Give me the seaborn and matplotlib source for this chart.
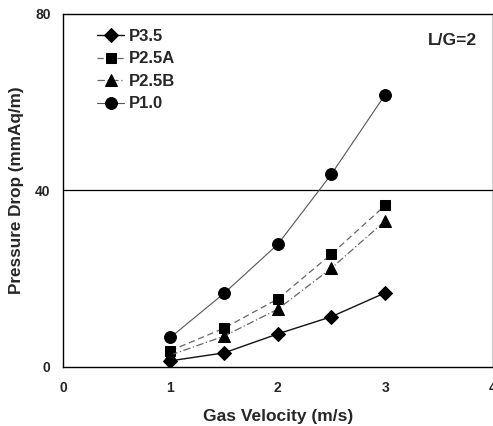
import matplotlib
matplotlib.use("Agg")
import matplotlib.pyplot as plt
import seaborn as sns
import pandas as pd

velocity = [1.0, 1.5, 2.0, 2.5, 3.0]
series_names = ["P3.5", "P2.5A", "P2.5B", "P1.0"]
p35 = [1.4, 3.2, 7.5, 11.4, 16.8]
p25a = [3.7, 8.8, 15.4, 25.6, 36.6]
p25b = [2.7, 7.0, 13.1, 22.4, 33.1]
p10 = [6.7, 16.7, 27.8, 43.7, 61.7]
x_ticks = [0, 1, 2, 3, 4]
y_ticks = [0, 40, 80]

df = pd.DataFrame({
    "v": velocity * 4,
    "dp": p35 + p25a + p25b + p10,
    "series": sum([[n] * len(velocity) for n in series_names], []),
})

sns.set_theme(style="white")
plt.rcParams["font.family"] = ["Liberation Sans", "DejaVu Sans"]
plt.rcParams["font.weight"] = "bold"

fig = plt.figure(figsize=(4.93, 4.26), dpi=100)
ax = fig.add_axes([0.128, 0.1385, 0.871, 0.829])

styles = {
    "P3.5": dict(marker="D", ls="-", color="#111111", ms=7, lw=1.0),
    "P2.5A": dict(marker="s", ls=(0, (5, 3)), color="#666666", ms=7.5, lw=0.9),
    "P2.5B": dict(marker="^", ls=(0, (6, 2, 1, 2)), color="#666666", ms=8, lw=0.9),
    "P1.0": dict(marker="o", ls="-", color="#555555", ms=8.5, lw=0.8),
}
for name in series_names:
    st = styles[name]
    sub = df[df["series"] == name]
    sns.lineplot(data=sub, x="v", y="dp", ax=ax, label=name, color=st["color"],
                 linestyle=st["ls"], linewidth=st["lw"], marker=st["marker"],
                 markersize=st["ms"], markerfacecolor="black",
                 markeredgecolor="black", estimator=None, sort=True)

ax.set_xlim(0, 4)
ax.set_ylim(0, 80)
ax.set_xticks(x_ticks)
ax.set_yticks(y_ticks)
ax.set_xticklabels([str(t) for t in x_ticks], fontsize=10, fontweight="bold")
ax.set_yticklabels([str(t) for t in y_ticks], fontsize=10, fontweight="bold")
ax.tick_params(axis="both", direction="in", length=3, width=0.8, color="black", pad=10)
ax.tick_params(axis="y", pad=9)
ax.axhline(40, color="black", lw=0.9, zorder=0)
for s in ax.spines.values():
    s.set_color("black")
    s.set_linewidth(1.0)

ax.set_xlabel("Gas Velocity (m/s)", fontsize=12.5, fontweight="bold", labelpad=10)
ax.set_ylabel("Pressure Drop (mmAq/m)", fontsize=12.3, fontweight="bold", labelpad=8)

ax.text(0.965, 0.925, "L/G=2", transform=ax.transAxes, ha="right", va="center",
        fontsize=12.5, fontweight="bold")

leg = ax.legend(loc="upper left", bbox_to_anchor=(0.045, 1.0), frameon=False,
                handlelength=1.6, handletextpad=0.3, labelspacing=0.45,
                prop={"size": 12, "weight": "bold"})

fig.savefig("out.png", dpi=100)
